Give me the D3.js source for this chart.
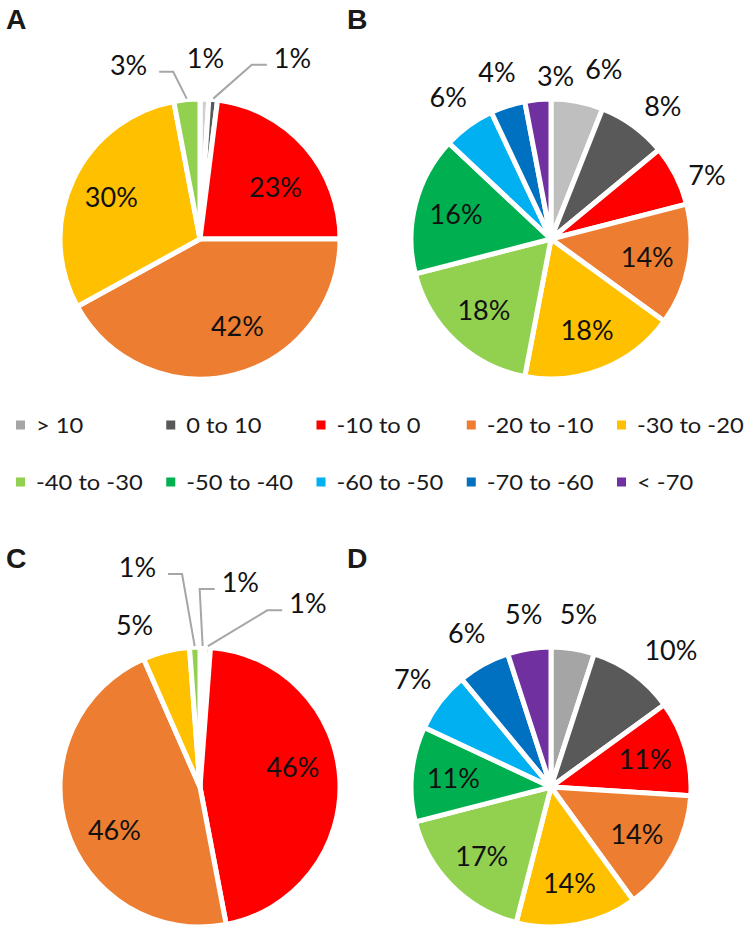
<!DOCTYPE html>
<html>
<head>
<meta charset="utf-8">
<script src="https://cdn.jsdelivr.net/npm/d3@7"></script>
<style>
  html, body { margin: 0; padding: 0; background: #ffffff; }
  svg { display: block; }
</style>
</head>
<body>
<svg id="chart" width="754" height="933"></svg>
<script>
// ---------------- DATA ----------------
const categories = ["> 10", "0 to 10", "-10 to 0", "-20 to -10", "-30 to -20",
                    "-40 to -30", "-50 to -40", "-60 to -50", "-70 to -60", "< -70"];
const panelNames = ["A", "B", "C", "D"];
const valuesA = [1, 1, 23, 42, 30, 3, 0, 0, 0, 0];
const valuesB = [6, 8, 7, 14, 18, 18, 16, 6, 4, 3];
const valuesC = [0.6, 0.6, 45.8, 46.4, 5.4, 1.2, 0, 0, 0, 0];
const valuesD = [5, 10, 11, 14, 14, 17, 11, 7, 6, 5];

// ---------------- STYLE / LAYOUT ----------------
const palette = ["#A5A5A5", "#595959", "#FF0000", "#ED7D31", "#FFC000",
                 "#92D050", "#00B050", "#00B0F0", "#0070C0", "#7030A0"];
const panelColorOverride = { A: { "> 10": "#D0D0D0" }, B: { "> 10": "#BFBFBF" } };
// label nudges (px) away from the default label anchor, mimicking the original label layout
const labelNudge = {
  A: { "0 to 10": [76, -7], "-40 to -30": [-55, 0], "-10 to 0": [2, 13], "-20 to -10": [13, -8], "> 10": [0, -6] },
  B: { "> 10": [20, 2], "< -70": [21, 11], "0 to 10": [9, 9], "-10 to 0": [0, 16] },
  C: { "> 10": [37, -30], "0 to 10": [98, -9], "-30 to -20": [-23, 8], "-40 to -30": [-56, -45],
       "-10 to 0": [-5, -14], "-20 to -10": [8, 14] },
  D: { "0 to 10": [17, 5] }
};

const W = 754, H = 933;
const R = 140;
const colX = d3.scalePoint().domain([0, 1]).range([200, 551]);
const rowY = d3.scalePoint().domain([0, 1]).range([239, 787]);
const letterX = [6, 347], letterY = [29, 568];

const svg = d3.select("#chart");
const valueSets = [valuesA, valuesB, valuesC, valuesD];
const labelFont = "Lato, 'Open Sans', sans-serif";

const pie = d3.pie().sort(null).value(d => d.v);
const arc = d3.arc().innerRadius(0).outerRadius(R);

valueSets.forEach((vals, i) => {
  const name = panelNames[i];
  const col = i % 2, row = Math.floor(i / 2);
  const cx = colX(col), cy = rowY(row);
  const rows = categories.map((c, k) => ({ c, v: vals[k], k }));
  const total = d3.sum(rows, d => d.v);
  const arcs = pie(rows).filter(a => a.data.v > 0);
  const colorOf = d => (panelColorOverride[name] && panelColorOverride[name][d.c]) || palette[d.k];

  // panel letter
  svg.append("text")
    .attr("transform", `translate(${letterX[col]},${letterY[row]}) scale(1.05,1)`)
    .attr("font-family", "'Liberation Sans', Arial, sans-serif")
    .attr("font-weight", "bold").attr("font-size", 27)
    .attr("fill", "#1a1a1a")
    .text(name);

  const g = svg.append("g").attr("transform", `translate(${cx},${cy})`);

  g.selectAll("path.slice").data(arcs).join("path")
    .attr("class", "slice")
    .attr("d", arc)
    .attr("fill", d => colorOf(d.data))
    .attr("stroke", "#ffffff")
    .attr("stroke-width", 5)
    .attr("stroke-linejoin", "round");

  const lg = g.append("g");
  arcs.forEach(a => {
    const d = a.data;
    const pct = Math.round(d.v / total * 100);
    const mid = (a.startAngle + a.endAngle) / 2;
    const inside = pct >= 11;
    const r = inside ? R * 0.7 : R * 1.25;
    const nud = (labelNudge[name] && labelNudge[name][d.c]) || [0, 0];
    const lx = r * Math.sin(mid) + nud[0];
    const ly = -r * Math.cos(mid) + nud[1];
    const t = lg.append("text")
      .attr("x", lx).attr("y", ly).attr("dy", "0.36em")
      .attr("text-anchor", "middle")
      .attr("font-family", labelFont)
      .attr("font-size", 27)
      .attr("fill", "#111111")
      .text(pct + "%");
    if (!inside && Math.hypot(nud[0], nud[1]) > 35) {
      const hw = t.node().getComputedTextLength() / 2;
      const ex = (R + 1) * Math.sin(mid), ey = -(R + 1) * Math.cos(mid);
      let sx, bx;
      if (lx > ex) { sx = lx - hw - 7; bx = sx - 15; }
      else { sx = lx + hw + 12; bx = sx + 14; }
      const sy = ly + 7;
      lg.insert("path", ":first-child")
        .attr("d", d3.line()([[sx, sy], [bx, sy], [ex, ey]]))
        .attr("fill", "none")
        .attr("stroke", "#A6A6A6")
        .attr("stroke-width", 2);
    }
  });
});

// ---------------- LEGEND ----------------
const legX = d3.scalePoint().domain(d3.range(5)).range([16, 617]);
const legY = d3.scalePoint().domain([0, 1]).range([425, 482]);
const legend = svg.append("g");
categories.forEach((c, k) => {
  const col = k % 5, row = Math.floor(k / 5);
  const x = legX(col), y = legY(row);
  legend.append("rect")
    .attr("x", x).attr("y", y - 4.5)
    .attr("width", 9).attr("height", 9)
    .attr("fill", palette[k]);
  legend.append("text")
    .attr("transform", `translate(${x + 20},${y}) scale(1.13,1)`)
    .attr("dy", "0.36em")
    .attr("font-family", labelFont)
    .attr("font-size", 21)
    .attr("fill", "#1a1a1a")
    .text(c);
});
</script>
</body>
</html>
